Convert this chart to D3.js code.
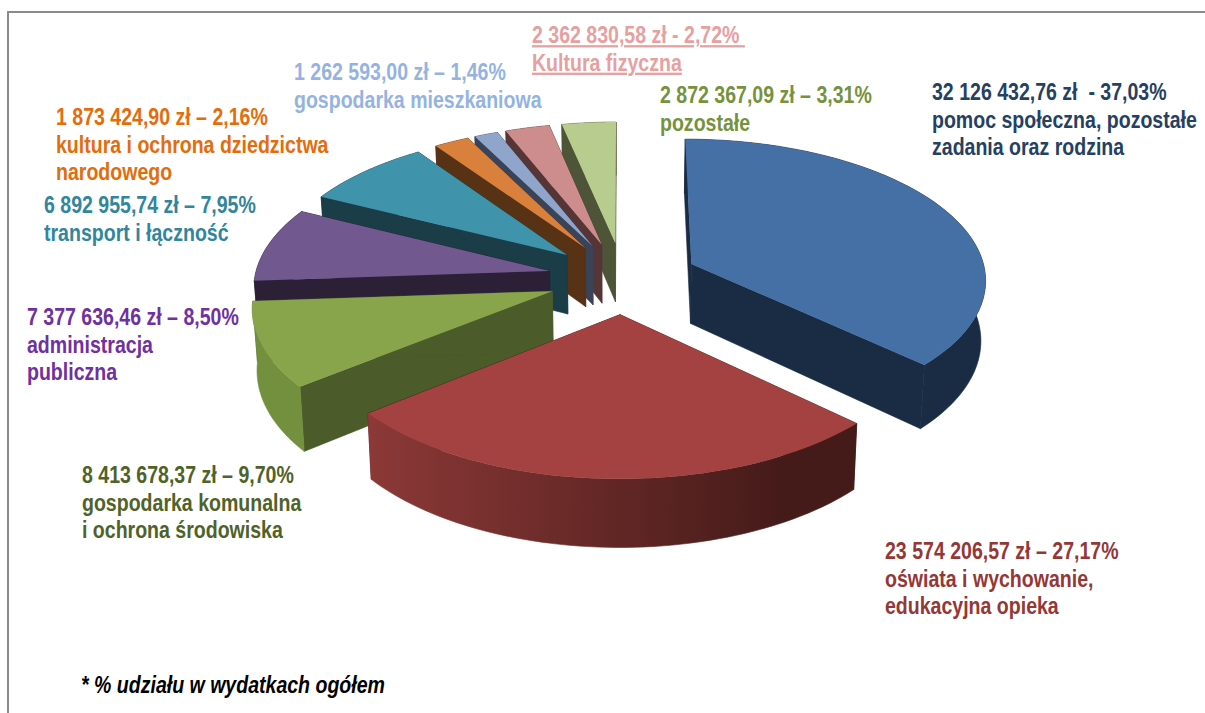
<!DOCTYPE html>
<html lang="pl">
  <head>
    <meta charset="utf-8">
    <style>
      html, body { margin: 0; padding: 0; background: #fff; }
      svg { display: block; }
      text { font-family: "Liberation Sans", Arial, sans-serif; font-weight: bold; white-space: pre; }
    </style>
  </head>
  <body>
    <script src="https://cdn.jsdelivr.net/npm/d3@7"></script>
    <script>
      // dane
      var categories = ["pomoc społeczna, pozostałe|zadania oraz rodzina",
                        "oświata i wychowanie,|edukacyjna opieka",
                        "gospodarka komunalna|i ochrona środowiska",
                        "administracja|publiczna",
                        "transport i łączność",
                        "kultura i ochrona dziedzictwa|narodowego",
                        "gospodarka mieszkaniowa",
                        "Kultura fizyczna",
                        "pozostałe"];
      var amounts = [32126432.76, 23574206.57, 8413678.37, 7377636.46, 6892955.74,
                     1873424.90, 1262593.00, 2362830.58, 2872367.09];
      var amountLabels = ["32 126 432,76 zł  - 37,03%", "23 574 206,57 zł – 27,17%",
                          "8 413 678,37 zł – 9,70%", "7 377 636,46 zł – 8,50%",
                          "6 892 955,74 zł – 7,95%", "1 873 424,90 zł – 2,16%",
                          "1 262 593,00 zł – 1,46%", "2 362 830,58 zł - 2,72% ",
                          "2 872 367,09 zł – 3,31%"];
      var topColors = ["#4570a6", "#a34240", "#88a54c", "#71588f", "#3f94ac",
                       "#d9813c", "#8fa5cc", "#cd8d8d", "#b8cc90"];
      var wallColors = ["#1a2c44", "#451b19", "#4b5b2a", "#2b2036", "#1a3d48",
                        "#573215", "#3a4358", "#553536", "#4d5437"];
      var rimColors = ["#1a2c44", "#8c3937", "#73903f", "#2b2036", "#1a3d48",
                       "#573215", "#3a4358", "#553536", "#4d5437"];
      var labelColors = ["#254061", "#953735", "#4f6228", "#7030a0", "#31859c",
                         "#e46c0a", "#95b3e0", "#e6a0a0", "#76923c"];
      var labelX = [932, 885, 82, 27, 44, 56, 294, 532, 660];
      var labelY = [100, 559, 483, 325, 213, 125, 80, 43, 103];

      var w = 1205;
      var h = 713;
      var lineHeight = 27.5;
      var squeeze = 0.85;   // napisy w oryginale sa zwezone

      // rzut perspektywiczny tarczy (u w prawo, v do widza, z: 0 gora, 1 dol)
      var cx = 623, cy = 278, rX = 295, rY = 140;
      var persp = 0.10, explode = 0.255, thick = 60;
      function project(u, v, z) {
        var s = 1 / (1 - persp * v);
        return [cx + rX * u * s * (1 - 0.013 * z), cy + rY * v * s + z * thick * s];
      }

      var svg = d3.select("body").append("svg").attr("width", w).attr("height", h);
      var defs = svg.append("defs");

      // ramka
      svg.append("path")
        .attr("d", d3.line()([[8, h], [8, 12], [w, 12]]))
        .attr("fill", "none")
        .attr("stroke", "#8a8a8a")
        .attr("stroke-width", 2);

      var arcs = d3.pie().value(function(d) { return d; }).sort(null)(amounts);
      var line = d3.line();

      // punkt na tarczy wycinka
      function disc(d, a, r) {
        var mid = (d.startAngle + d.endAngle) / 2;
        return [explode * Math.sin(mid) + r * Math.sin(a), -explode * Math.cos(mid) - r * Math.cos(a)];
      }
      function at(d, a, r, z) {
        var p = disc(d, a, r);
        return project(p[0], p[1], z);
      }
      function rimAngles(d) {
        return d3.range(0, 61).map(function(i) {
          return d.startAngle + (d.endAngle - d.startAngle) * i / 60;
        });
      }

      // czerwony bok z gradientem
      var grad = defs.append("linearGradient").attr("id", "redRim")
        .attr("gradientUnits", "userSpaceOnUse")
        .attr("x1", 368).attr("x2", 780).attr("y1", 0).attr("y2", 0);
      grad.append("stop").attr("offset", 0).attr("stop-color", rimColors[1]);
      grad.append("stop").attr("offset", 1).attr("stop-color", wallColors[1]);

      // od tylu do przodu
      var order = d3.range(arcs.length).sort(function(a, b) {
        return disc(arcs[a], 0, 0)[1] - disc(arcs[b], 0, 0)[1];
      });

      order.forEach(function(i) {
        var d = arcs[i];
        var g = svg.append("g");
        var rimFill = i === 1 ? "url(#redRim)" : rimColors[i];
        [d.startAngle, d.endAngle].forEach(function(a) {
          g.append("path")
            .attr("d", line([at(d, a, 0, 0), at(d, a, 1, 0), at(d, a, 1, 1), at(d, a, 0, 1)]) + "Z")
            .attr("fill", wallColors[i])
            .attr("stroke", wallColors[i])
            .attr("stroke-width", 0.6);
        });
        var upper = rimAngles(d).map(function(a) { return at(d, a, 1, 0); });
        var lower = rimAngles(d).map(function(a) { return at(d, a, 1, 1); }).reverse();
        g.append("path")
          .attr("d", line(upper.concat(lower)) + "Z")
          .attr("fill", rimFill)
          .attr("stroke", rimFill)
          .attr("stroke-width", 0.6);
        g.append("path")
          .attr("d", line([at(d, 0, 0, 0)].concat(upper)) + "Z")
          .attr("fill", topColors[i]);
      });

      // opisy
      categories.forEach(function(c, i) {
        var lines = [amountLabels[i]].concat(c.split("|"));
        var g = svg.append("g").attr("fill", labelColors[i]);
        lines.forEach(function(t, j) {
          var y = labelY[i] + j * lineHeight;
          g.append("text")
            .attr("transform", "translate(" + labelX[i] + "," + y + ") scale(" + squeeze + ",1)")
            .attr("font-size", 23)
            .attr("text-decoration", i === 7 ? "underline" : null)
            .text(t);
        });
      });

      svg.append("text")
        .attr("transform", "translate(81,693) scale(" + squeeze + ",1)")
        .attr("font-size", 23)
        .attr("font-style", "italic")
        .attr("fill", "#000")
        .text("* % udziału w wydatkach ogółem");
    </script>
  </body>
</html>
